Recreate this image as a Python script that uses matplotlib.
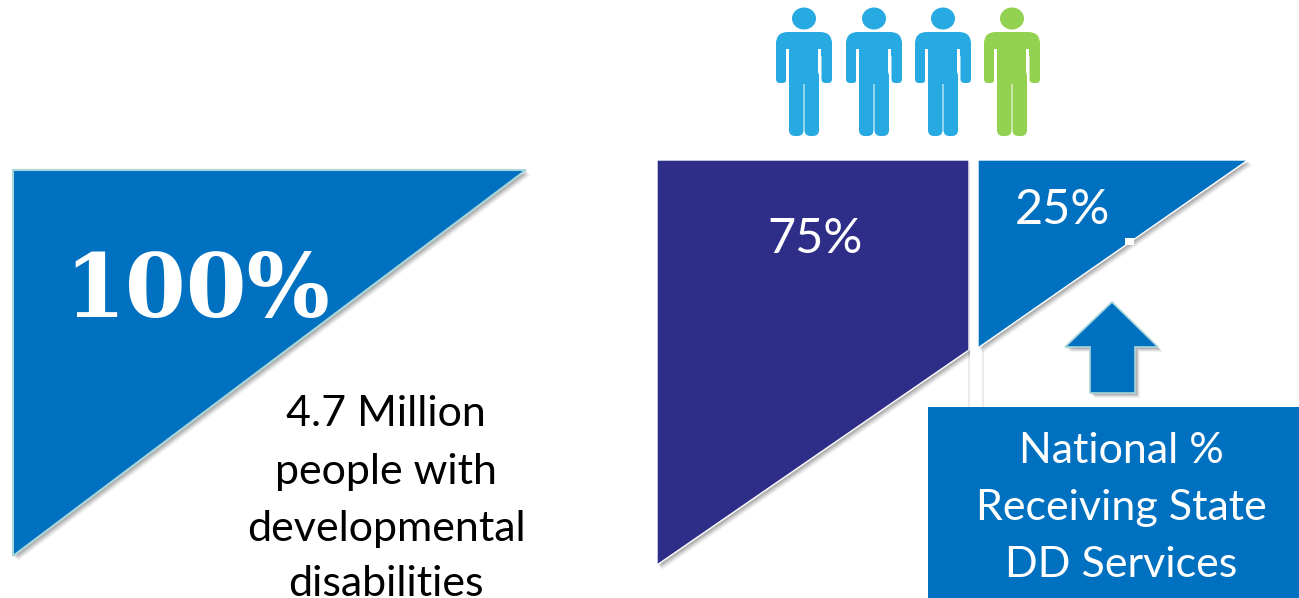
import matplotlib
matplotlib.use('Agg')
import matplotlib.pyplot as plt
from matplotlib.patches import Polygon, Rectangle, Ellipse, FancyBboxPatch

# numbers shown on the graphic
total_share = 100
share_without = 75
share_with = 25
people_count = 4
total_lines = ['4.7 Million', 'people with', 'developmental', 'disabilities']
box_lines = ['National %', 'Receiving State', 'DD Services']

BLUE = '#0070c0'
PURPLE = '#2e2d88'
SKY = '#27a9e1'
GREEN = '#93d150'
FONT = 'Lato'

fig = plt.figure(figsize=(12.99, 5.98), dpi=100)
ax = fig.add_axes([0, 0, 1, 1])
ax.set_xlim(0, 1299)
ax.set_ylim(598, 0)
ax.axis('off')


def wedge(pts, color, edge='white', edge_w=1.0):
    # soft drop shadow built from a few offset copies
    for off, a in [(5, 0.05), (4, 0.07), (3, 0.09), (2, 0.12)]:
        ax.add_patch(Polygon([(x + off, y + off) for x, y in pts], fc='black', ec='none', alpha=a))
    ax.add_patch(Polygon(pts, fc=color, ec=edge, lw=edge_w))


def person(cx, color):
    ax.add_patch(Ellipse((cx, 18.5), 24, 22, fc=color, ec='none'))
    rnd = dict(fc=color, ec='none', mutation_scale=1)
    # shoulders, arms, torso and legs
    ax.add_patch(FancyBboxPatch((cx - 28, 32), 56, 24, boxstyle='round,pad=0,rounding_size=12', **rnd))
    ax.add_patch(FancyBboxPatch((cx - 28, 40), 10.5, 43, boxstyle='round,pad=0,rounding_size=4', **rnd))
    ax.add_patch(FancyBboxPatch((cx + 17.5, 40), 10.5, 43, boxstyle='round,pad=0,rounding_size=4', **rnd))
    ax.add_patch(Rectangle((cx - 17.5, 48.5), 3.5, 40, fc='white', ec='none'))
    ax.add_patch(Rectangle((cx + 14, 48.5), 3.5, 40, fc='white', ec='none'))
    ax.add_patch(Rectangle((cx - 14.5, 40), 29, 44, fc=color, ec='none'))
    ax.add_patch(FancyBboxPatch((cx - 15, 70), 14.5, 66, boxstyle='round,pad=0,rounding_size=6', **rnd))
    ax.add_patch(FancyBboxPatch((cx + 0.5, 70), 14.5, 66, boxstyle='round,pad=0,rounding_size=6', **rnd))


# left triangle
wedge([(13, 170), (526, 170), (13, 556)], BLUE, edge='#a9d6da', edge_w=1.5)
ax.text(197, 317, f'{total_share}%', color='white', fontsize=63, fontweight='bold',
        family='DejaVu Serif', ha='center', va='baseline')
for line, y in zip(total_lines, [426, 484, 541, 596]):
    ax.text(386, y, line, color='black', fontsize=31, family=FONT, ha='center', va='baseline')

# split triangle on the right
wedge([(657, 160), (969, 160), (969, 350), (657, 565)], PURPLE)
ax.add_patch(Rectangle((970, 155), 12, 252, fc='white', ec='none'))
ax.add_patch(Rectangle((968, 350), 2, 57, fc='black', ec='none', alpha=0.08))
ax.add_patch(Rectangle((982, 350), 2, 57, fc='black', ec='none', alpha=0.08))
wedge([(978, 160), (1248, 160), (978, 348)], BLUE)
ax.add_patch(Rectangle((1125, 238), 9, 7, fc='white', ec='none'))
ax.text(815, 253, f'{share_without}%', color='white', fontsize=35, family=FONT, ha='center', va='baseline')
ax.text(1062, 224, f'{share_with}%', color='white', fontsize=35, family=FONT, ha='center', va='baseline')

# row of figures, coloured by share
n_blue = people_count * share_without // total_share
for i, cx in enumerate([804, 874, 943, 1012]):
    person(cx, SKY if i < n_blue else GREEN)

# up arrow and caption box
wedge([(1112, 302), (1158, 347), (1135, 347), (1135, 393), (1090, 393), (1090, 347), (1065, 347)],
      BLUE, edge='#a9d6da', edge_w=1.2)
ax.add_patch(Rectangle((928, 407), 371, 191, fc=BLUE, ec='none'))
for line, y in zip(box_lines, [463, 520, 577]):
    ax.text(1121, y, line, color='white', fontsize=31, family=FONT, ha='center', va='baseline')

fig.savefig('out.png', dpi=100)
